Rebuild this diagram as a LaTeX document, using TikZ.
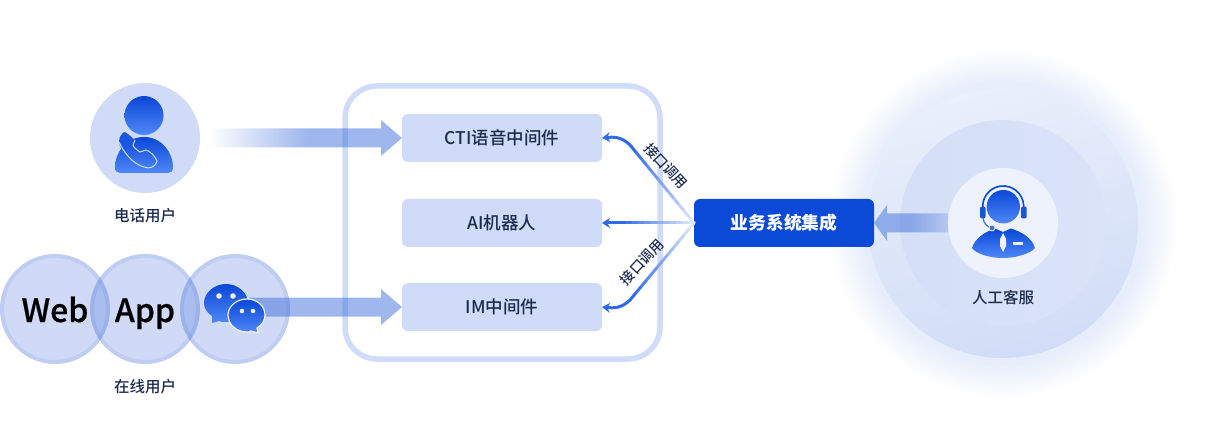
\documentclass[tikz,border=0pt]{standalone}
\usepackage{fontspec}
\setmainfont{Noto Sans CJK SC}
\newfontfamily\cjkmedium{Noto Sans CJK SC Medium}
\newfontfamily\cjkheavy[FakeBold=0.5]{Noto Sans CJK SC Medium}
\usepackage{xcolor}
\usetikzlibrary{calc,arrows.meta,positioning}

\definecolor{boxblue}{HTML}{D0DBF7}
\definecolor{framepale}{HTML}{D0DCF8}
\definecolor{deepblue}{HTML}{0A4AD6}
\definecolor{bubbleblue}{HTML}{1248D0}
\definecolor{arrowblue}{HTML}{3F6FDC}
\definecolor{linkblue}{HTML}{2F68E8}
\definecolor{inktext}{HTML}{1D2B4F}
\definecolor{icontop}{HTML}{0A48D6}
\definecolor{iconbot}{HTML}{5088F8}
\definecolor{glowpale}{HTML}{E6EDFB}
\definecolor{outertop}{HTML}{E9EFFB}
\definecolor{outerbot}{HTML}{D1DDF7}
\definecolor{midleft}{HTML}{D4DFF7}
\definecolor{midright}{HTML}{DAE3F8}
\definecolor{innerpale}{HTML}{EDF2FC}

\pgfdeclareradialshading{glowshade}{\pgfpoint{0bp}{0bp}}{color(0bp)=(glowpale); color(20bp)=(glowpale); color(25bp)=(white); color(50bp)=(white)}

\tikzset{
    midbox/.style={fill=boxblue, rounded corners=6pt, minimum width=200pt, minimum height=48pt, inner sep=0pt, outer sep=0pt, text=inktext, font=\cjkmedium\fontsize{17.5}{19}\selectfont},
    userlabel/.style={text=inktext, font=\cjkmedium\fontsize{15.5}{17}\selectfont},
    linklabel/.style={text=inktext, font=\cjkmedium\fontsize{14}{16}\selectfont},
    bubble/.style={circle, fill=bubbleblue, fill opacity=.2, text opacity=1, minimum size=110pt, inner sep=0pt, outer sep=0pt, text=black, text height=26pt, text depth=0pt, font=\cjkheavy\fontsize{32}{34}\selectfont},
    ringline/.style={draw=bubbleblue, draw opacity=.09, line width=4pt},
    halo/.style={circle, minimum size=#1, inner sep=0pt, outer sep=0pt},
    fatarrow/.style={opacity=.5},
    iconfill/.style={top color=icontop, bottom color=iconbot},
    linkline/.style={line width=3pt, line cap=round},
    linktip/.style={line width=3pt, linkblue, -{Stealth[length=8pt,width=10pt]}}
}

% pale at the start, full colour at the end
\newcommand{\fadelink}[2]{
    \foreach \i in {0,...,11} {
        \pgfmathsetmacro\fromt{\i/12}
        \pgfmathsetmacro\tot{(\i+1)/12}
        \pgfmathtruncatemacro\tone{15+\i*85/11}
        \draw[linkline, linkblue!\tone!white] ($(#1)!\fromt!(#2)$) -- ($(#1)!\tot!(#2)$);
    }
}

\begin{document}
\begin{tikzpicture}[x=1pt, y=-1pt]
\useasboundingbox (0,0) rectangle (1225,446);

% Glow behind the agent
\node[halo=350pt, shade, shading=glowshade] (glow) at (1003,223) {};
\node[halo=270pt, shade, top color=outertop, bottom color=outerbot, shading angle=15] (outer) at (glow) {};
\node[halo=206pt, shade, left color=midleft, right color=midright] (middle) at (glow) {};

% Middle frame
\node[draw=framepale, line width=5.5pt, rounded corners=32pt, minimum width=315pt, minimum height=273pt, outer sep=0pt] (frame) at (502.5,222.5) {};

% Middleware boxes
\node[midbox] (cti) at (502,138) {CTI语音中间件};
\node[midbox] (ai) at (502,223) {AI机器人};
\node[midbox] (im) at (502,307) {IM中间件};

% Business system
\node[fill=deepblue, rounded corners=6pt, minimum width=180pt, minimum height=48pt, inner sep=0pt, outer sep=0pt, text=white, font=\bfseries\fontsize{17.8}{19}\selectfont] (biz) at (784,223) {业务系统集成};

% Phone user
\node[circle, fill=boxblue, minimum size=110pt, inner sep=0pt, outer sep=0pt] (phone) at (145,138) {};
\node[userlabel] (phonelabel) at (145,216) {电话用户};

% Online users
\node[bubble] (web) at (55,309) {Web};
\node[bubble] (app) at (145,309) {App};
\node[bubble] (chat) at (235,309) {};
\draw[ringline] (web) circle (53pt);
\draw[ringline] (app) circle (53pt);
\draw[ringline] (chat) circle (53pt);
\node[userlabel] (onlinelabel) at (145,387) {在线用户};

% Fat arrows
\shade[fatarrow, left color=white, right color=arrowblue, middle color=arrowblue]
    ($(phone.east)+(10,-9.5)$) -- ($(cti.west)+(-21,-9.5)$) -- ($(cti.west)+(-21,-18)$) -- (cti.west)
    -- ($(cti.west)+(-21,18)$) -- ($(cti.west)+(-21,9.5)$) -- ($(phone.east)+(10,9.5)$) -- cycle;
\fill[fatarrow, arrowblue]
    ($(im.west -| chat.center)+(14,-9.5)$) -- ($(im.west)+(-21,-9.5)$) -- ($(im.west)+(-21,-18)$) -- (im.west)
    -- ($(im.west)+(-21,18)$) -- ($(im.west)+(-21,9.5)$) -- ($(im.west -| chat.center)+(14,9.5)$) -- cycle;

% Agent
\node[halo=110pt, fill=innerpale] (agent) at (glow) {};
\node[userlabel] (agentlabel) at (1003,298) {人工客服};
\shade[fatarrow, left color=arrowblue, right color=arrowblue!55!white, middle color=arrowblue]
    ($(agent.west)+(0,-9.5)$) -- ($(biz.east)+(13,-9.5)$) -- ($(biz.east)+(13,-18)$) -- (biz.east)
    -- ($(biz.east)+(13,18)$) -- ($(biz.east)+(13,9.5)$) -- ($(agent.west)+(0,9.5)$) -- cycle;

% Links from the business system
\coordinate (topbend) at (630,145);
\coordinate (aibend) at (618,223);
\coordinate (lowbend) at (630,300);
\fadelink{biz.west}{topbend}
\fadelink{biz.west}{aibend}
\fadelink{biz.west}{lowbend}
\draw[linktip] (topbend) .. controls (621,136) and (612,137) .. (cti.east);
\draw[linktip] (aibend) -- (ai.east);
\draw[linktip] (lowbend) .. controls (621,309) and (612,308) .. (im.east);
\node[linklabel, rotate=-47] (toplabel) at (666,166) {接口调用};
\node[linklabel, rotate=47] (lowlabel) at (642,262) {接口调用};

% Phone icon
\shade[iconfill] (144,115.5) circle (19.5pt);
\shade[iconfill] (120,173) .. controls (117,173) and (115,171) .. (115,167) .. controls (115,153) and (126,137) .. (144,137)
    .. controls (162,137) and (173,153) .. (173,167) .. controls (173,171) and (171,173) .. (168,173) -- cycle;
\fill[icontop!75!iconbot] (122,134) .. controls (124,131) and (126,132) .. (128,134) -- (136,141) -- (122,150) .. controls (118,144) and (118,138) .. (122,134) -- cycle;
\draw[boxblue, line width=1pt] (119,142) .. controls (124,153) and (133,164) .. (144,167) .. controls (149,169) and (155,168) .. (157,161)
    .. controls (155,156) and (150,151) .. (146,150) .. controls (144,150) and (142,152) .. (140,152)
    .. controls (137,150) and (133,147) .. (133,145) .. controls (133,143) and (135,142) .. (135,140);

% Chat icon
\shade[iconfill] (226,284) .. controls (238,284) and (248,293) .. (248,303) .. controls (248,314) and (238,322) .. (226,322)
    .. controls (223,322) and (221,322) .. (219,321) -- (212,323) -- (212,316) .. controls (207,313) and (204,308) .. (204,303)
    .. controls (204,293) and (214,284) .. (226,284) -- cycle;
\fill[innerpale] (219,296) circle (2.8pt) (233,296) circle (2.8pt);
\shade[iconfill, draw=innerpale, line width=1.2pt] (247,299) .. controls (257,299) and (265,306) .. (265,315) .. controls (265,320) and (262,325) .. (257,328)
    -- (258,333) -- (251,331) .. controls (249,332) and (248,332) .. (247,332) .. controls (237,332) and (228,325) .. (228,315)
    .. controls (228,306) and (237,299) .. (247,299) -- cycle;
\fill[innerpale] (242,311) circle (2.3pt) (253,311) circle (2.3pt);

% Agent icon
\shade[iconfill] (1003.3,206.7) circle (16.7pt);
\draw[icontop, line width=1.6pt] (983,210) arc[start angle=190, end angle=-10, radius=20.5pt];
\fill[icontop!80!iconbot, rounded corners=2pt] (980,206.5) rectangle (985.5,218.5);
\fill[icontop!80!iconbot, rounded corners=2pt] (1021,206.5) rectangle (1026.7,218.5);
\draw[arrowblue, line width=1.2pt] (983,218) .. controls (984,224) and (987,227) .. (992,228);
\shade[iconfill] (972,248) .. controls (975,238) and (985,232) .. (995,228.5) -- (1003,232) -- (1011,228.5)
    .. controls (1022,232) and (1032,238) .. (1035,248) .. controls (1030,254) and (1015,258) .. (1003,258)
    .. controls (990,258) and (976,254) .. (972,248) -- cycle;
\fill[arrowblue, draw=innerpale, line width=.8pt] (992,228) circle (3pt);
\fill[innerpale] (1003,233) -- (1006,239) -- (1006,246) -- (1003,252) -- (1000,246) -- (1000,239) -- cycle;
\fill[innerpale] (1013,242.5) rectangle (1022.7,244.8);

\end{tikzpicture}
\end{document}
